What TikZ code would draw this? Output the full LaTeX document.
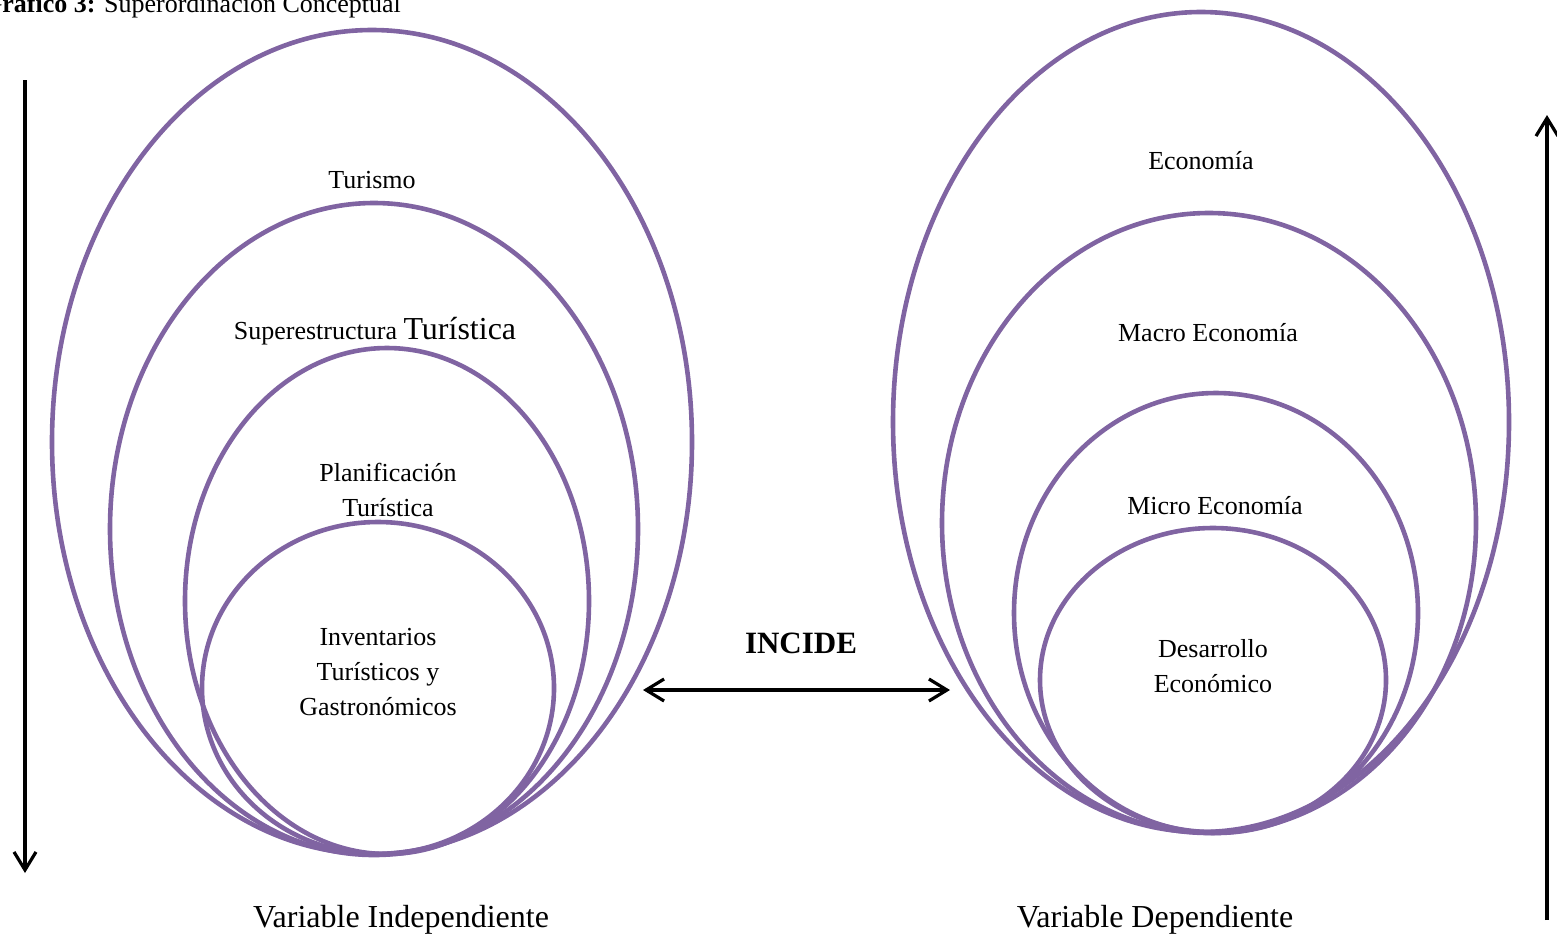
\documentclass[tikz,border=0pt]{standalone}
\usepackage{fontspec}
\setmainfont{Liberation Serif}
\usetikzlibrary{arrows.meta}

\definecolor{lila}{RGB}{128,100,162}
\tikzset{
  ring/.style={lila, line width=2.3pt},
  label/.style={font=\fontsize{13}{17.5}\selectfont, align=center},
  varname/.style={font=\fontsize{16}{19}\selectfont},
  flow/.style={black, line width=1.6pt, -{Straight Barb[length=9pt,width=11pt]}},
  both/.style={black, line width=1.6pt, {Straight Barb[length=9pt,width=11pt]}-{Straight Barb[length=9pt,width=11pt]}}
}

\begin{document}
\begin{tikzpicture}[x=0.5pt, y=-0.5pt]
                \useasboundingbox (0, 0) rectangle (1557, 939);
                % titulo
                \node [anchor=base east, font=\fontsize{13}{15}\selectfont] (titulo) at (408, 12) {\textbf{Gráfico 3:} Superordinación Conceptual};
                % variable independiente
                \draw [ring] (372, 442) ellipse [x radius=320, y radius=412];
                \draw [ring] (374, 529) ellipse [x radius=264, y radius=326];
                \draw [ring] (387, 601) ellipse [x radius=202, y radius=253];
                \draw [ring] (378, 688) ellipse [x radius=176, y radius=166];
                \node [label] (turismo) at (372, 180) {Turismo};
                \node [label] (superestructura) at (375, 331) {Superestructura {\fontsize{16}{19}\selectfont Turística}};
                \node [label] (planificacion) at (388, 490) {Planificación\\Turística};
                \node [label] (inventarios) at (378, 672) {Inventarios\\Turísticos y\\Gastronómicos};
                % variable dependiente
                \draw [ring] (1201, 422) ellipse [x radius=308, y radius=410];
                \draw [ring] (1209, 523) ellipse [x radius=267, y radius=310];
                \draw [ring] (1216, 613) ellipse [x radius=202, y radius=220];
                \draw [ring] (1213, 680) ellipse [x radius=173, y radius=152];
                \node [label] (economia) at (1201, 161) {Economía};
                \node [label] (macro) at (1208, 333) {Macro Economía};
                \node [label] (micro) at (1215, 506) {Micro Economía};
                \node [label] (desarrollo) at (1213, 666) {Desarrollo\\Económico};
                % relacion
                \node [font=\bfseries\fontsize{15.5}{18}\selectfont] (incide) at (801, 643) {INCIDE};
                \coordinate (izq) at (643, 690);
                \coordinate (der) at (950, 690);
                \draw [both] (izq) -- (der);
                % flechas laterales
                \coordinate (bajaA) at (25, 80);
                \coordinate (bajaB) at (25, 873);
                \draw [flow] (bajaA) -- (bajaB);
                \coordinate (subeA) at (1547, 920);
                \coordinate (subeB) at (1547, 115);
                \draw [flow] (subeA) -- (subeB);
                % nombres
                \node [varname] (independiente) at (401, 920) {Variable Independiente};
                \node [varname] (dependiente) at (1155, 920) {Variable Dependiente};
            \end{tikzpicture}
\end{document}
